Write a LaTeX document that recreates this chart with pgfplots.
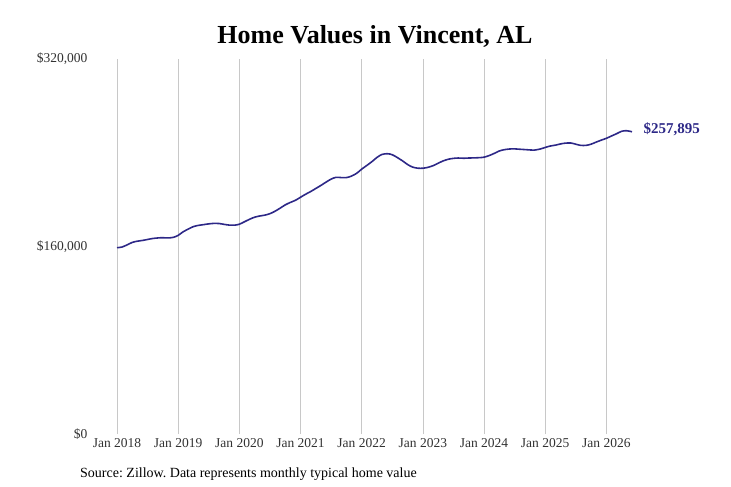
\documentclass[border=0pt]{standalone}
\usepackage{pgfplots}
\pgfplotsset{compat=1.18}
\usepackage{fontspec}
\setmainfont{Liberation Serif}
\definecolor{zline}{RGB}{45,40,135}
\definecolor{zgrid}{RGB}{200,200,200}
\definecolor{ztext}{RGB}{50,50,50}
\frenchspacing

\begin{document}
\begin{tikzpicture}
\useasboundingbox (0,0) rectangle (731bp,487bp);
\begin{axis}[
    at={(117bp,53bp)}, anchor=south west,
    scale only axis,
    width=515bp, height=375bp,
    xmin=2018, xmax=2026.42,
    ymin=0, ymax=320000,
    axis line style={draw=none},
    clip=false,
    xtick={2018,2019,2020,2021,2022,2023,2024,2025,2026},
    xticklabels={Jan 2018,Jan 2019,Jan 2020,Jan 2021,Jan 2022,Jan 2023,Jan 2024,Jan 2025,Jan 2026},
    ytick={0,160000,320000},
    yticklabels={\$0,\$160{,}000,\$320{,}000},
    major tick length=0pt,
    xmajorgrids,
    grid style={zgrid, line width=0.6pt},
    tick label style={font=\fontsize{13.5bp}{15bp}\selectfont, text=ztext},
    yticklabel style={anchor=east, xshift=-26bp},
    xticklabel style={anchor=north, yshift=-1bp},
    scaled y ticks=false,
]
\addplot[zline, line width=1.6pt, smooth, tension=0.5] coordinates {
(2018.00,159000) (2018.08,159500) (2018.17,161500) (2018.25,163500)
(2018.33,164500) (2018.42,165200) (2018.50,166000) (2018.58,166800)
(2018.67,167300) (2018.75,167500) (2018.83,167300) (2018.92,167800)
(2019.00,169500) (2019.08,172500) (2019.17,175000) (2019.25,177000)
(2019.33,178000) (2019.42,178700) (2019.50,179300) (2019.58,179700)
(2019.67,179600) (2019.75,178900) (2019.83,178300) (2019.92,178200)
(2020.00,179000) (2020.08,181000) (2020.17,183300) (2020.25,185000)
(2020.33,186000) (2020.42,186800) (2020.50,188000) (2020.58,190000)
(2020.67,192800) (2020.75,195500) (2020.83,197500) (2020.92,199500)
(2021.00,202000) (2021.08,204500) (2021.17,207000) (2021.25,209500)
(2021.33,212000) (2021.42,215000) (2021.50,217500) (2021.58,219000)
(2021.67,218800) (2021.75,218800) (2021.83,220000) (2021.92,222500)
(2022.00,226000) (2022.08,229000) (2022.17,232500) (2022.25,236000)
(2022.33,238500) (2022.42,239200) (2022.50,238300) (2022.58,236000)
(2022.67,233000) (2022.75,230000) (2022.83,227800) (2022.92,226800)
(2023.00,226800) (2023.08,227500) (2023.17,229000) (2023.25,231000)
(2023.33,233000) (2023.42,234500) (2023.50,235200) (2023.58,235500)
(2023.67,235300) (2023.75,235500) (2023.83,235600) (2023.92,235800)
(2024.00,236200) (2024.08,237500) (2024.17,239500) (2024.25,241500)
(2024.33,242600) (2024.42,243200) (2024.50,243300) (2024.58,243000)
(2024.67,242700) (2024.75,242400) (2024.83,242300) (2024.92,243200)
(2025.00,244500) (2025.08,245700) (2025.17,246500) (2025.25,247500)
(2025.33,248200) (2025.42,248300) (2025.50,247300) (2025.58,246300)
(2025.67,246300) (2025.75,247300) (2025.83,249000) (2025.92,250800)
(2026.00,252300) (2026.08,254200) (2026.17,256300) (2026.25,258300)
(2026.33,258800) (2026.42,257900)
};
\node[anchor=west, font=\fontsize{15bp}{17bp}\selectfont\bfseries, text=zline]
  at (axis cs:2026.42,257900) [xshift=8bp, yshift=3bp] {\$257,895};
\end{axis}
\node[font=\fontsize{26bp}{29bp}\selectfont\bfseries, anchor=center] at (375bp,451bp) {Home Values in Vincent, AL};
\node[font=\fontsize{14bp}{16bp}\selectfont, anchor=west, inner sep=0pt] at (80bp,13bp) {Source: Zillow. Data represents monthly typical home value};
\end{tikzpicture}
\end{document}
